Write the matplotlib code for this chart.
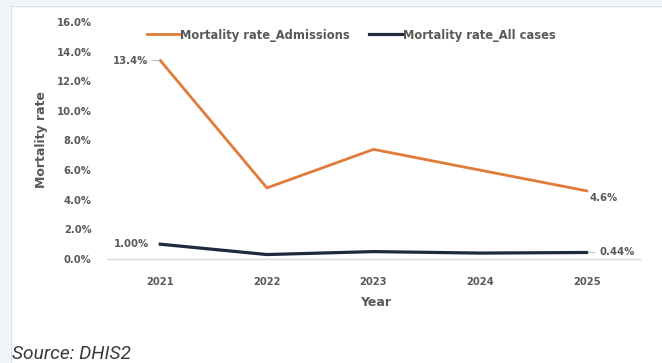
import matplotlib.pyplot as plt
from matplotlib.patches import Rectangle
from matplotlib.lines import Line2D

years = ["2021", "2022", "2023", "2024", "2025"]
rate_admissions = [13.4, 4.8, 7.4, 6.0, 4.6]
rate_all_cases = [1.00, 0.30, 0.50, 0.40, 0.44]
series_names = ["Mortality rate_Admissions", "Mortality rate_All cases"]
yticks = [0, 2, 4, 6, 8, 10, 12, 14, 16]

W, H = 662, 363
ORANGE = "#E07B3A"
NAVY = "#1C2B3E"
GREY = "#595959"
FONT = "DejaVu Sans"


def fx(px):
    return px / W


def fy(py):
    return 1 - py / H


fig = plt.figure(figsize=(W / 100, H / 100), dpi=100)
fig.patch.set_facecolor("white")

# screenshot frame: light blue strips at the left and top
fig.add_artist(Rectangle((0, 0), fx(10), 1, transform=fig.transFigure,
                         facecolor="#EEF6FA", edgecolor="none"))
fig.add_artist(Rectangle((0, fy(5)), 1, 1 - fy(5), transform=fig.transFigure,
                         facecolor="#EEF6FA", edgecolor="none"))
fig.add_artist(Line2D([fx(10.5), fx(10.5)], [0, fy(5)], transform=fig.transFigure,
                      color="#D5DEE3", lw=1))
fig.add_artist(Line2D([fx(10.5), 1], [fy(5.5), fy(5.5)], transform=fig.transFigure,
                      color="#D5DEE3", lw=1))

ax = fig.add_axes([fx(107), fy(259), fx(640) - fx(107), fy(22) - fy(259)])
x = list(range(len(years)))

ax.plot(x, rate_admissions, color=ORANGE, lw=2.0, label=series_names[0],
        solid_joinstyle="miter")
ax.plot(x, rate_all_cases, color=NAVY, lw=2.3, label=series_names[1],
        solid_joinstyle="miter")

ax.set_xlim(-0.5, len(years) - 0.5)
ax.set_ylim(0, 16)
ax.set_xticks(x)
ax.set_xticklabels(years)
ax.set_yticks(yticks)
ax.set_yticklabels([f"{v:.1f}%" for v in yticks])
ax.tick_params(axis="both", length=0, labelsize=7.2, labelcolor=GREY)
ax.tick_params(axis="y", pad=11)
ax.tick_params(axis="x", pad=13)
for lbl in ax.get_xticklabels() + ax.get_yticklabels():
    lbl.set_fontweight("bold")
    lbl.set_family(FONT)

for side in ["top", "right", "left"]:
    ax.spines[side].set_visible(False)
ax.spines["bottom"].set_color("#D9D9D9")
ax.spines["bottom"].set_linewidth(1)

# data labels
lab = dict(fontsize=7.3, color=GREY, fontweight="bold", family=FONT,
           textcoords="offset points", va="center")
lead = dict(arrowstyle="-", color="#BFBFBF", lw=0.8, shrinkA=1, shrinkB=1)
ax.annotate(f"{rate_admissions[0]:.1f}%", xy=(0, rate_admissions[0]),
            xytext=(-9, 0), ha="right", arrowprops=lead, **lab)
ax.annotate(f"{rate_admissions[-1]:.1f}%", xy=(4, rate_admissions[-1]),
            xytext=(2, -5), ha="left", **lab)
ax.annotate(f"{rate_all_cases[0]:.2f}%", xy=(0, rate_all_cases[0]),
            xytext=(-8, 0), ha="right", **lab)
ax.annotate(f"{rate_all_cases[-1]:.2f}%", xy=(4, rate_all_cases[-1]),
            xytext=(9, 0), ha="left", arrowprops=lead, **lab)

ax.legend(loc="center", bbox_to_anchor=(fx(351), fy(35)),
          bbox_transform=fig.transFigure, ncol=2, frameon=False,
          prop=dict(family=FONT, weight="bold", size=8.3), labelcolor=GREY,
          handlelength=2.85, handletextpad=0.05, columnspacing=1.7)

fig.text(fx(42), fy(140), "Mortality rate", rotation=90, ha="center", va="center",
         fontsize=9, color=GREY, fontweight="bold", family=FONT)
fig.text(fx(376), fy(302), "Year", ha="center", va="center",
         fontsize=9, color=GREY, fontweight="bold", family=FONT)

fig.text(fx(12), fy(354), "Source: DHIS2", ha="left", va="center",
         fontsize=13.8, color="#3A3A3A", style="italic", family="Roboto")

fig.savefig("out.png", dpi=100, facecolor=fig.get_facecolor())
